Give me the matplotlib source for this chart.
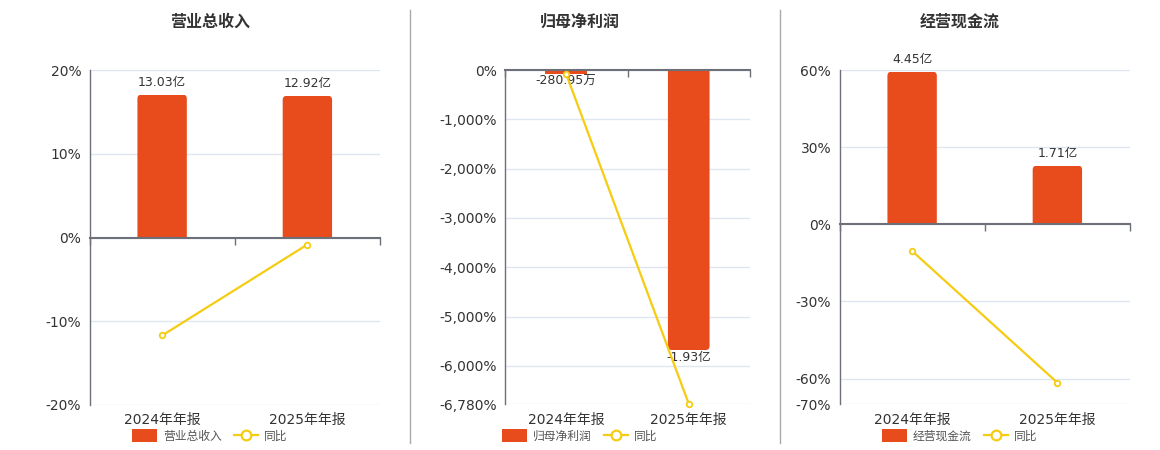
import matplotlib
matplotlib.use("Agg")
import matplotlib.pyplot as plt
from matplotlib.lines import Line2D
from matplotlib.patches import Patch, FancyBboxPatch, Rectangle
from matplotlib.ticker import FixedLocator, FuncFormatter
import matplotlib.transforms as mtrans

plt.rcParams['font.family'] = ['DejaVu Sans', 'Noto Sans CJK SC']

# ---------------- data ----------------
categories = ['2024年年报', '2025年年报']

titles = ['营业总收入', '归母净利润', '经营现金流']
bar_names = ['营业总收入', '归母净利润', '经营现金流']
line_name = '同比'

revenue_vals = [13.03, 12.92]            # 亿
revenue_labels = ['13.03亿', '12.92亿']
revenue_yoy = [-11.7, -0.84]             # %

profit_vals = [-0.028095, -1.93]         # 亿
profit_labels = ['-280.95万', '-1.93亿']
profit_yoy = [-85.0, -6770.0]            # %

cash_vals = [4.45, 1.71]                 # 亿
cash_labels = ['4.45亿', '1.71亿']
cash_yoy = [-10.4, -61.6]                # %

pct_ticks = [
    [20, 10, 0, -10, -20],
    [0, -1000, -2000, -3000, -4000, -5000, -6000, -6780],
    [60, 30, 0, -30, -60, -70],
]
pct_lims = [(-20, 20), (-6780, 0), (-70, 60)]
bar_lims = [(-15.28, 15.28), (-2.304, 0), (-5.25, 4.50)]

# ---------------- style ----------------
W, H = 1160, 450
BAR_C = '#E84B1C'
LINE_C = '#F5CC12'
GRID_C = '#E0E6F1'
AXIS_C = '#6E7079'
TXT_C = '#333333'
RADIUS_PX = 4

fig = plt.figure(figsize=(W / 100, H / 100), dpi=100)
fig.patch.set_facecolor('white')

# axes boxes in pixels: left, right, top, bottom
boxes = [(89.5, 380, 70, 405), (505, 750, 70, 404.3), (839.5, 1130, 70, 404.3)]
title_x = [210, 580, 960]

panels = [
    (revenue_vals, revenue_labels, revenue_yoy),
    (profit_vals, profit_labels, profit_yoy),
    (cash_vals, cash_labels, cash_yoy),
]

x = list(range(len(categories)))

for i, (bvals, blabels, yoy) in enumerate(panels):
    l, r, t, b = boxes[i]
    rect = [l / W, 1 - b / H, (r - l) / W, (b - t) / H]
    ax = fig.add_axes(rect)
    ax.set_xlim(-0.5, len(categories) - 0.5)
    ax.set_ylim(*pct_lims[i])
    ax.yaxis.set_major_locator(FixedLocator(pct_ticks[i]))
    ax.yaxis.set_major_formatter(FuncFormatter(lambda v, p: f'{v:,.0f}%'))
    ax.tick_params(axis='y', length=0, pad=6, labelsize=10, labelcolor=TXT_C)
    for s in ['top', 'right', 'bottom']:
        ax.spines[s].set_visible(False)
    ax.spines['left'].set_color(AXIS_C)
    ax.spines['left'].set_linewidth(1)
    ax.grid(axis='y', color=GRID_C, linewidth=1)
    ax.set_axisbelow(True)

    # bars on hidden axis
    axb = ax.twinx()
    axb.set_ylim(*bar_lims[i])
    axb.set_xlim(-0.5, len(categories) - 0.5)
    axb.axis('off')
    bars = axb.bar(x, bvals, width=0.34, color=BAR_C, zorder=2)
    # rounded far ends
    rx = (len(categories)) / (r - l) * RADIUS_PX
    ry = (bar_lims[i][1] - bar_lims[i][0]) / (b - t) * RADIUS_PX
    for k, p in enumerate(bars.patches):
        x0, y0 = p.get_x(), p.get_y()
        w, h = p.get_width(), p.get_height()
        ylo, yhi = min(y0, y0 + h), max(y0, y0 + h)
        if abs(yhi - ylo) < 2 * ry:
            continue
        if bvals[k] >= 0:
            ext_lo, ext_hi = ylo - ry, yhi
        else:
            ext_lo, ext_hi = ylo, yhi + ry
        fb = FancyBboxPatch((x0, ext_lo), w, ext_hi - ext_lo,
                            boxstyle=f"round,pad=0,rounding_size={rx}",
                            mutation_aspect=ry / rx, facecolor=BAR_C, edgecolor='none',
                            zorder=2)
        axb.add_patch(fb)
        clip = Rectangle((x0 - w, ylo), 3 * w, yhi - ylo, transform=axb.transData)
        fb.set_clip_path(clip)
        p.set_visible(False)
    for xi, v, lab in zip(x, bvals, blabels):
        if v >= 0:
            axb.annotate(lab, (xi, v), xytext=(0, 4), textcoords='offset points',
                         ha='center', va='bottom', fontsize=9, color=TXT_C)
        else:
            axb.annotate(lab, (xi, v), xytext=(0, -0.5), textcoords='offset points',
                         ha='center', va='top', fontsize=9, color=TXT_C)

    # line on top axis (same scale as percent axis)
    axl = ax.twinx()
    axl.set_ylim(*pct_lims[i])
    axl.set_xlim(-0.5, len(categories) - 0.5)
    axl.set_yticks([])
    for s in ['top', 'right', 'left']:
        axl.spines[s].set_visible(False)
    axl.xaxis.set_visible(True)
    axl.spines['bottom'].set_position(('data', 0))
    axl.spines['bottom'].set_color(AXIS_C)
    axl.spines['bottom'].set_linewidth(1.5)
    axl.set_xticks(x)
    axl.set_xticklabels([])
    axl.tick_params(axis='x', which='major', length=0, labelbottom=False)
    axl.set_xticks([-0.5, 0.5, 1.5], minor=True)
    axl.tick_params(axis='x', which='minor', length=5, width=1, color=AXIS_C,
                    direction='out', bottom=True, top=False)
    axl.plot(x, yoy, color=LINE_C, linewidth=1.6, marker='o', markersize=4,
             markerfacecolor='white', markeredgecolor=LINE_C, markeredgewidth=1.3,
             zorder=5, clip_on=False)

    # hide the shared x ticks on the base axis
    ax.tick_params(axis='x', which='both', length=0, labelbottom=False)

    # category labels
    trans = mtrans.blended_transform_factory(ax.transData, ax.transAxes)
    for xi, c in zip(x, categories):
        ax.text(xi, 1 - (420 - t) / (b - t), c, transform=trans, ha='center', va='center',
                fontsize=10, color=TXT_C)

    # title
    fig.text(title_x[i] / W, 1 - 22 / H, titles[i], ha='center', va='center',
             fontsize=11.5, fontweight='bold', color=TXT_C)

    # legend
    handles = [Patch(facecolor=BAR_C, edgecolor='none', label=bar_names[i]),
               Line2D([0], [0], color=LINE_C, linewidth=1.6, marker='o', markersize=7,
                      markerfacecolor='white', markeredgecolor=LINE_C, markeredgewidth=1.6,
                      label=line_name)]
    fig.legend(handles=handles, loc='center', bbox_to_anchor=(title_x[i] / W, 1 - 436 / H),
               ncol=2, frameon=False, fontsize=8.5, handlelength=2.1, handleheight=1.2,
               handletextpad=0.5, columnspacing=1.0, borderpad=0, labelcolor='#555555')

# dividers
for xd in [410, 780]:
    fig.add_artist(Line2D([xd / W, xd / W], [1 - 10 / H, 1 - 443 / H], color='#AAAAAA',
                          linewidth=1, transform=fig.transFigure))

fig.savefig('out.png', dpi=100, facecolor='white')
